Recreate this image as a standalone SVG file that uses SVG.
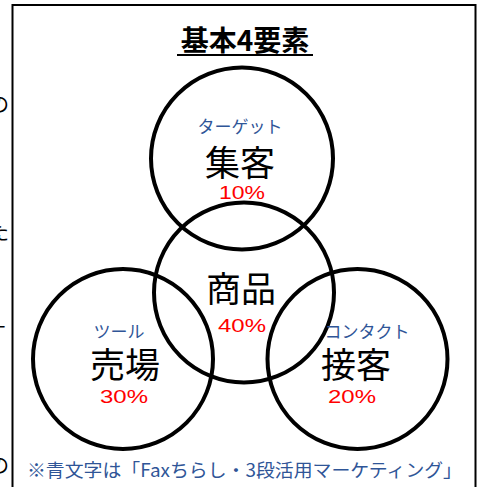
<svg xmlns="http://www.w3.org/2000/svg" width="483" height="487" viewBox="0 0 483 487">
<style>
.c{fill:none;stroke:#000;stroke-width:4}
.t{font-family:"Noto Sans CJK JP","Noto Sans",sans-serif;text-anchor:middle}
.big{font-size:35px;fill:#000}
.sub{font-size:17px;fill:#2F5597}
.pct{font-family:"Liberation Sans","Noto Sans CJK JP",sans-serif;font-size:18px;fill:#FF0000;text-anchor:middle}
</style>
<rect width="483" height="487" fill="#fff"/>
<g id="edge" font-family="Noto Sans CJK JP,sans-serif" font-size="20" fill="#000">
<text x="-11" y="112">の</text>
<text x="-11" y="240">た</text>
<text x="-14" y="340">す</text>
<text x="-11" y="473">の</text>
</g>
<rect id="frame" x="12.5" y="5" width="463" height="490" fill="none" stroke="#000" stroke-width="2"/>
<g id="title">
<text class="t" x="245" y="51" font-size="28" font-weight="bold">基本4要素</text>
<line x1="177" y1="55" x2="313" y2="55" stroke="#000" stroke-width="2"/>
</g>
<g id="connectors"></g>
<g id="circles">
<circle id="c-top" class="c" cx="242" cy="158.5" r="91"/>
<circle id="c-mid" class="c" cx="244" cy="292.5" r="90"/>
<circle id="c-left" class="c" cx="123" cy="359" r="90"/>
<circle id="c-right" class="c" cx="357.5" cy="359" r="90"/>
</g>
<g id="node-shukyaku">
<text class="t sub" x="240" y="133">ターゲット</text>
<text class="t big" x="240" y="176">集客</text>
<text class="pct" x="242" y="199" textLength="46" lengthAdjust="spacingAndGlyphs">10%</text>
</g>
<g id="node-shohin">
<text class="t big" x="241" y="302">商品</text>
<text class="pct" x="242" y="332" textLength="48" lengthAdjust="spacingAndGlyphs">40%</text>
</g>
<g id="node-uriba">
<text class="t sub" x="119" y="338">ツール</text>
<text class="t big" x="125" y="378">売場</text>
<text class="pct" x="124" y="403" textLength="48" lengthAdjust="spacingAndGlyphs">30%</text>
</g>
<g id="node-sekkyaku">
<text class="t sub" x="367" y="338">コンタクト</text>
<text class="t big" x="356" y="378">接客</text>
<text class="pct" x="352" y="403" textLength="48" lengthAdjust="spacingAndGlyphs">20%</text>
</g>
<g id="note">
<text x="27" y="477" font-family="Noto Sans CJK JP,sans-serif" font-size="18" fill="#2F5597" textLength="435" lengthAdjust="spacingAndGlyphs">※青文字は「Faxちらし・3段活用マーケティング」</text>
</g>
</svg>
